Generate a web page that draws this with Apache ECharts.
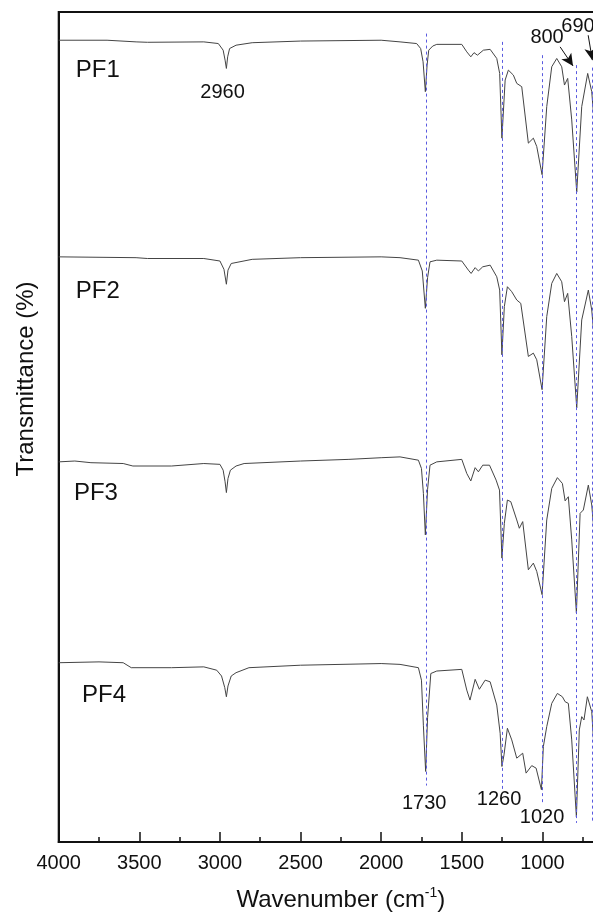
<!DOCTYPE html>
<html>
<head>
<meta charset="utf-8">
<script src="https://cdn.jsdelivr.net/npm/echarts@6/dist/echarts.min.js"></script>
<style>
  html, body { margin: 0; padding: 0; background: #fff; }
  #main { width: 593px; height: 915px; }
</style>
</head>
<body>
<div id="main"></div>
<script>
// FTIR spectra, [wavenumber (cm-1), offset transmittance (a.u.)]
var pf1 = [[4000,96.6],[3700,96.6],[3520,96.4],[3450,96.35],[3100,96.4],[3010,96.2],[2980,95.4],[2968,94.2],[2960,93.2],[2952,94.6],[2940,95.6],[2900,96.0],[2800,96.3],[2500,96.5],[2000,96.6],[1883,96.4],[1780,96.2],[1755,95.6],[1740,94.0],[1726,90.4],[1715,93.6],[1705,95.4],[1680,95.9],[1655,96.1],[1500,96.1],[1469,95.2],[1444,94.6],[1424,95.1],[1403,94.8],[1366,95.4],[1324,95.5],[1283,94.4],[1265,92.6],[1251,84.8],[1231,91.8],[1211,93.0],[1180,92.4],[1159,91.4],[1128,91.0],[1087,84.2],[1056,84.8],[1035,83.8],[1002,80.4],[973,88.6],[942,93.4],[911,94.4],[880,93.4],[863,91.2],[843,92.0],[818,87.0],[787,78.3],[756,88.6],[719,92.6],[694,90.4],[680,87.0]];
var pf2 = [[4000,70.5],[3520,70.4],[3450,70.3],[3100,70.3],[3000,70.0],[2975,69.0],[2960,67.2],[2950,68.9],[2930,69.7],[2800,70.2],[2500,70.4],[2000,70.5],[1883,70.4],[1769,70.1],[1745,68.8],[1726,64.3],[1712,68.0],[1697,69.9],[1655,70.1],[1500,70.0],[1459,68.9],[1442,68.5],[1417,69.2],[1397,68.8],[1370,69.3],[1324,69.5],[1283,68.1],[1265,66.5],[1251,58.7],[1236,64.5],[1217,66.9],[1190,66.3],[1159,65.3],[1134,64.9],[1087,58.5],[1056,58.9],[1035,58.1],[1002,54.5],[973,63.3],[942,67.3],[911,68.5],[880,67.5],[863,65.1],[843,66.1],[818,60.9],[787,52.3],[756,62.9],[715,66.5],[694,64.1],[680,61.0]];
var pf3 = [[4000,45.8],[3900,45.9],[3800,45.7],[3600,45.6],[3540,45.3],[3300,45.3],[3100,45.6],[3000,45.5],[2980,44.8],[2968,43.4],[2960,42.1],[2950,43.8],[2935,44.8],[2900,45.3],[2850,45.6],[2500,45.9],[2200,46.1],[2000,46.3],[1883,46.4],[1769,46.0],[1750,45.0],[1738,42.0],[1726,37.0],[1712,42.5],[1697,45.4],[1655,45.8],[1500,46.1],[1469,44.4],[1444,43.5],[1417,45.1],[1397,44.6],[1370,45.4],[1328,45.4],[1287,43.6],[1266,42.4],[1251,34.2],[1236,38.4],[1217,41.2],[1196,41.0],[1159,38.8],[1143,37.8],[1122,38.6],[1087,32.8],[1056,33.6],[1035,32.6],[1002,29.8],[973,38.8],[942,42.6],[907,43.9],[876,43.2],[859,41.1],[839,41.6],[818,36.4],[789,27.6],[766,39.6],[746,40.0],[715,43.0],[694,40.6],[680,37.5]];
var pf4 = [[4000,21.6],[3750,21.7],[3600,21.6],[3550,21.0],[3300,21.0],[3100,21.1],[3020,20.7],[2990,20.0],[2970,18.6],[2960,17.5],[2950,18.8],[2930,20.0],[2900,20.4],[2820,21.0],[2500,21.3],[2000,21.5],[1883,21.4],[1769,21.0],[1750,19.5],[1738,14.0],[1724,8.5],[1712,15.0],[1692,20.3],[1655,20.6],[1500,20.8],[1469,18.3],[1449,17.1],[1417,19.6],[1391,18.4],[1355,19.5],[1324,19.3],[1283,16.5],[1262,13.1],[1251,9.1],[1238,10.5],[1217,13.7],[1190,12.3],[1159,10.1],[1122,10.7],[1101,8.3],[1066,9.2],[1039,8.9],[1006,6.3],[994,11.5],[973,13.9],[942,16.7],[907,17.9],[876,17.5],[859,16.9],[839,16.7],[818,12.3],[789,3.0],[771,13.5],[756,15.1],[742,14.7],[721,17.5],[694,15.7],[682,12.0]];

// guide lines: [wavenumber, top, bottom]
var guides = [[1722, 97.4, 6.8], [1249, 96.4, 6.3], [1000, 94.8, 4.7], [788, 93.6, 2.3], [691, 93.3, 2.3]];
// arrows: [from w, from v, to w, to v]
var arrows = [[890, 95.8, 810, 93.5], [716, 97.2, 690, 94.2]];
// text labels: [text, w, v, size]
var labels = [
  ['PF1', 3758, 93.0, 24], ['PF2', 3758, 66.3, 24], ['PF3', 3769, 42.0, 24], ['PF4', 3719, 17.7, 24],
  ['2960', 2984, 90.3, 20], ['1730', 1733, 4.7, 20], ['1260', 1269, 5.1, 20], ['1020', 1002, 2.9, 20],
  ['800', 971, 96.9, 20], ['690', 779, 98.3, 20]
];

var chart = echarts.init(document.getElementById('main'));
var font = '"Liberation Sans", Arial, sans-serif';

function spectrum(name, data) {
  return {
    name: name, type: 'line', data: data, showSymbol: false, silent: true,
    lineStyle: { color: '#444', width: 1 }
  };
}

var series = [spectrum('PF1', pf1), spectrum('PF2', pf2), spectrum('PF3', pf3), spectrum('PF4', pf4)];

// dotted guide lines at the marked bands
series.push({
  type: 'line', data: [], silent: true,
  markLine: {
    silent: true, symbol: ['none', 'none'], animation: false,
    label: { show: false },
    lineStyle: { color: '#5a5ae0', width: 1, type: [3, 3] },
    data: guides.map(function (g) { return [{ coord: [g[0], g[1]] }, { coord: [g[0], g[2]] }]; })
  }
});

// arrows and text annotations
series.push({
  type: 'line', data: [], silent: true,
  markLine: {
    silent: true, symbol: ['none', 'arrow'], symbolSize: [9, 12], animation: false,
    label: { show: false },
    lineStyle: { color: '#111', width: 1, type: 'solid' },
    data: arrows.map(function (a) { return [{ coord: [a[0], a[1]] }, { coord: [a[2], a[3]] }]; })
  },
  markPoint: {
    silent: true, symbol: 'circle', symbolSize: 0, animation: false,
    data: labels.map(function (l) {
      return {
        name: l[0], coord: [l[1], l[2]],
        label: { show: true, position: 'inside', formatter: '{b}', color: '#111', fontSize: l[3], fontFamily: font }
      };
    })
  }
});

var option = {
  animation: false,
  grid: {
    left: 58.7, right: -30, top: 12, bottom: 73, outerBoundsMode: 'none',
    show: true, borderColor: '#111', borderWidth: 2
  },
  graphic: [{
    type: 'text', x: 26, y: 379, rotation: Math.PI / 2,
    style: { text: 'Transmittance (%)', fontSize: 24, fontFamily: font, fill: '#111', align: 'center', verticalAlign: 'middle' }
  }],
  xAxis: {
    type: 'value', inverse: true, min: 500, max: 4000, interval: 500,
    name: 'Wavenumber (cm{sup|-1})', nameLocation: 'middle', nameGap: 44,
    nameTextStyle: {
      fontSize: 24, fontFamily: font, color: '#111',
      rich: { sup: { fontSize: 14, fontFamily: font, color: '#111', padding: [0, 0, 14, 0] } }
    },
    axisLine: { lineStyle: { color: '#111', width: 2 } },
    axisTick: { inside: true, length: 10, lineStyle: { color: '#111', width: 1.5 } },
    minorTick: { show: true, splitNumber: 2, length: 5, lineStyle: { color: '#111', width: 1.5 } },
    axisLabel: {
      fontSize: 20, fontFamily: font, color: '#111', margin: 11,
      formatter: function (v) { return String(v); }
    },
    splitLine: { show: false }
  },
  yAxis: {
    type: 'value', min: 0, max: 100,
    axisLine: { show: true, lineStyle: { color: '#111', width: 2 } },
    axisTick: { show: false }, axisLabel: { show: false }, splitLine: { show: false }
  },
  series: series
};

chart.setOption(option);
</script>
</body>
</html>
